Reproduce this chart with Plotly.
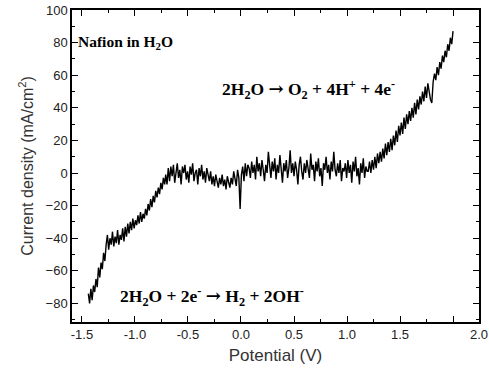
import numpy as np
import plotly.graph_objects as go

# Lower (hydrogen evolution) branch: x from -1.44 to -0.72 V
seg1_range = (-1.44, -0.72)
seg1_y = [-74, -80, -71, -78, -69, -73, -65, -70,
          -58, -64, -55, -59, -49, -54, -44,
          -38, -47, -40, -44, -36, -45,
          -39, -43, -35, -44, -38, -41, -34, -42,
          -33, -39, -31, -37, -30, -35, -28, -34, -29, -32, -26, -31, -24, -30, -25, -28, -22,
          -26, -19, -23, -16, -21, -14, -18, -11, -15, -9, -13, -6, -10, -3, -7]

# Plateau: x from -0.71 to 1.19 V
seg2_range = (-0.71, 1.19)
seg2_y = [-1, -7, 3, -5, 4, -2, 5, -6, 1, 6, -3, 2, -7, 4, 0,
          5, -4, 1, -6, 4, -1, 6, -5, 0, 2, -7, 3, -2, 5, -4, 1, -6, 3, -1, -5,
          1, -7, -2, -8, -1, -5, -9, -3, -7, -1, -8, -4, -10, -2, -5,
          -9, -3, -7, 1, -4, -8, 2, -3, -22, -1, 4, -5, 6, -2, 5,
          3, -3, 7, 0, 5, -4, 10, 1, 6, -2, 8, 2, -5, 5, 0, 13, 3, -3, 7, 1,
          9, -4, 5, 0, 11, 2, -6, 6, 1, 8, -3, 3, 14, 0, 6, -2, 7, 2, -7, 5,
          10, 1, -4, 6, 0, 8, 3, -3, 12, 2, 5, -5, 7, 1, 9, -2, 3, -8, 6, 2,
          10, 0, 5, -4, 7, 1, 13, 2, -2, 6, 0, 8, -5, 3, 1,
          6, -3, 8, 0, 5, -6, 7, 1, 10, -2, 3, -7, 6, 0, 9, -3, 4, 1]

# Rising (oxygen evolution) branch: x from 1.20 to 2.0 V
seg3_range = (1.20, 2.0)
seg3_y = [1, 7, 0, 8, 2,
          10, 3, 12, 6, 13,
          7, 15, 9, 18, 11, 19, 13,
          21, 14, 23, 17, 26, 19, 29, 23,
          31, 24, 34, 27, 36, 30, 38, 32,
          40, 34, 43, 36, 45, 39, 47,
          42, 50, 44, 53, 46, 55, 49,
          45, 43,
          56, 61, 57, 65, 60, 68, 64, 72,
          68, 75, 71, 79, 75, 83, 79, 87]

x_tick_vals = [-1.5, -1.0, -0.5, 0.0, 0.5, 1.0, 1.5, 2.0, 2.245]
x_tick_text = ["-1.5", "-1.0", "-0.5", "0.0", "0.5", "1.0", "1.5", "", "2.0"]
x_minor_vals = [-1.25, -0.75, -0.25, 0.25, 0.75, 1.25, 1.75]

xs, ys = [], []
for (a, b), seg in [(seg1_range, seg1_y), (seg2_range, seg2_y), (seg3_range, seg3_y)]:
    xs.extend(np.linspace(a, b, len(seg)).tolist())
    ys.extend(seg)

fig = go.Figure()
fig.add_trace(go.Scatter(x=xs, y=ys, mode="lines",
                         line=dict(color="black", width=1.4), showlegend=False,
                         hoverinfo="skip"))

tickfont = dict(family="Liberation Sans, Arial", size=13, color="#222")
fig.update_xaxes(range=[-1.594, 2.245], tickmode="array", tickvals=x_tick_vals,
                 ticktext=x_tick_text, ticks="inside", ticklen=6, tickwidth=1,
                 tickcolor="black", showline=True, linecolor="black", linewidth=1.5,
                 mirror="ticks", showgrid=False, zeroline=False, tickfont=tickfont,
                 automargin=False,
                 minor=dict(tickmode="array", tickvals=x_minor_vals, ticks="inside",
                            ticklen=3, tickcolor="black", showgrid=False),
                 title=dict(text="Potential (V)",
                            font=dict(family="Liberation Sans, Arial", size=17, color="#333"),
                            standoff=8))
fig.update_yaxes(range=[-91.4, 100], tickmode="linear", tick0=0, dtick=20,
                 ticks="inside", ticklen=6, tickwidth=1, tickcolor="black",
                 showline=True, linecolor="black", linewidth=1.5, mirror="ticks",
                 showgrid=False, zeroline=False, tickfont=tickfont,
                 automargin=False,
                 minor=dict(dtick=10, ticks="inside", ticklen=3, tickcolor="black",
                            showgrid=False),
                 title=dict(text="Current density (mA/cm<sup>2</sup>)",
                            font=dict(family="Liberation Sans, Arial", size=16, color="#333"),
                            standoff=8))

serif = dict(family="Liberation Serif, Times New Roman", size=15.5, color="black")
serif_eq = dict(family="Liberation Serif, Times New Roman", size=17.5, color="black")
arrow = "<span style='font-family:DejaVu Serif;font-size:18px'>→</span>"
fig.add_annotation(x=-1.557, y=80, xref="x", yref="y", xanchor="left", yanchor="middle",
                   text="<b>Nafion in H<sub>2</sub>O</b>", showarrow=False, font=serif)
fig.add_annotation(x=-0.195, y=51, xref="x", yref="y", xanchor="left", yanchor="middle",
                   text="<b>2H<sub>2</sub>O " + arrow + " O<sub>2</sub> + 4H<sup>+</sup> + 4e<sup>-</sup></b>",
                   showarrow=False, font=serif_eq)
fig.add_annotation(x=-1.16, y=-76, xref="x", yref="y", xanchor="left", yanchor="middle",
                   text="<b>2H<sub>2</sub>O + 2e<sup>-</sup> " + arrow + " H<sub>2</sub> + 2OH<sup>-</sup></b>",
                   showarrow=False, font=serif_eq)

fig.update_layout(width=489, height=373, margin=dict(l=72, r=10, t=10, b=51),
                  plot_bgcolor="white", paper_bgcolor="white")
fig.write_html("out.html", config={"displayModeBar": False},
               post_script="document.body.style.margin='0';")
